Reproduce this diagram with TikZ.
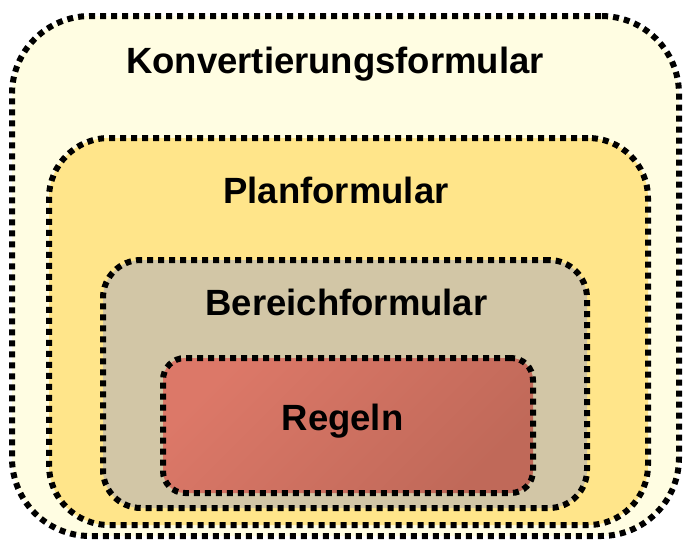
\documentclass[tikz,border=0pt]{standalone}
\usepackage{fontspec}
\setmainfont{Liberation Sans}
\begin{document}
\begin{tikzpicture}[x=1pt,y=-1pt,
  dotbox/.style={draw=black, line width=6pt, dash pattern=on 6pt off 5pt,
    line cap=butt, inner sep=0pt, outer sep=0pt},
  lbl/.style={anchor=base, inner sep=0pt, text=black,
    font=\fontsize{36.5}{40}\selectfont\bfseries}]
\definecolor{konvfill}{RGB}{255,253,226}
\definecolor{planfill}{RGB}{255,229,138}
\definecolor{bereichfill}{RGB}{210,198,166}
\definecolor{regelnlight}{RGB}{220,120,104}
\definecolor{regelndark}{RGB}{192,105,89}
\useasboundingbox (0,0) rectangle (683,539);
% nested containers, outermost first
\node[dotbox, fill=konvfill, rounded corners=78pt,
  minimum width=667pt, minimum height=520pt] (konv) at (345.5,276) {};
\node[dotbox, fill=planfill, rounded corners=60pt,
  minimum width=599pt, minimum height=387pt] (plan) at (348.5,331.5) {};
\node[dotbox, fill=bereichfill, rounded corners=38pt,
  minimum width=484pt, minimum height=248pt] (bereich) at (345,384) {};
\node[dotbox, top color=regelnlight, bottom color=regelndark, shading angle=45,
  rounded corners=22pt,
  minimum width=370pt, minimum height=135pt] (regeln) at (348,425.5) {};
% captions
\node[lbl] (konvtext) at (335,73) {Konvertierungsformular};
\node[lbl] (plantext) at (336,203) {Planformular};
\node[lbl] (bereichtext) at (346.5,315) {Bereichformular};
\node[lbl] (regelntext) at (342.5,430) {Regeln};
\end{tikzpicture}
\end{document}
